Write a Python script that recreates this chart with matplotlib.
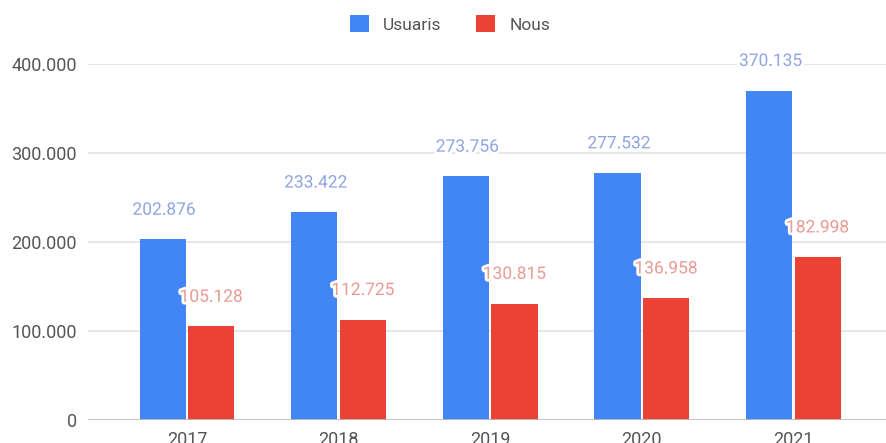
import matplotlib
matplotlib.use("Agg")
import matplotlib.pyplot as plt
import matplotlib.patheffects as pe
import numpy as np

years = ["2017", "2018", "2019", "2020", "2021"]
usuaris = [202876, 233422, 273756, 277532, 370135]
nous = [105128, 112725, 130815, 136958, 182998]
series_names = ["Usuaris", "Nous"]
yticks = [0, 100000, 200000, 300000, 400000]

blue = "#4285F4"
red = "#EA4335"
blue_lbl = "#8fa5e3"
red_lbl = "#e99a94"

def fmt(v):
    return f"{v:,}".replace(",", ".")

plt.rcParams["font.family"] = ["Roboto", "DejaVu Sans"]

W, H = 887, 443
fig = plt.figure(figsize=(W / 100, H / 100), dpi=100)
left, right = 88 / W, 1.0
bottom, top = (H - 420) / H, (H - 64) / H
ax = fig.add_axes([left, bottom, right - left, top - bottom])

x = np.arange(len(years))
bw = 0.305
off = 0.16
ax.bar(x - off, usuaris, width=bw, color=blue, label=series_names[0], zorder=3)
ax.bar(x + off, nous, width=bw, color=red, label=series_names[1], zorder=3)

halo = [pe.withStroke(linewidth=4, foreground="white")]
for xi, v in zip(x, usuaris):
    ax.annotate(fmt(v), (xi - off, v), xytext=(1, 21), textcoords="offset points",
                ha="center", va="center", fontsize=12.5, color=blue_lbl, zorder=5,
                annotation_clip=False, path_effects=halo)
for xi, v in zip(x, nous):
    ax.annotate(fmt(v), (xi + off, v), xytext=(0, 21), textcoords="offset points",
                ha="center", va="center", fontsize=12.5, color=red_lbl, zorder=5,
                annotation_clip=False, path_effects=halo)

ax.set_xlim(-0.653, 4.617)
ax.set_ylim(0, 400000)
ax.set_yticks(yticks)
ax.set_yticklabels([fmt(t) for t in yticks])
ax.set_xticks(x)
ax.set_xticklabels(years)
ax.tick_params(axis="both", length=0, labelsize=13, labelcolor="#555555")
ax.tick_params(axis="y", pad=8)
ax.tick_params(axis="x", pad=8)
for s in ax.spines.values():
    s.set_visible(False)
ax.grid(axis="y", color="#e3e3e3", linewidth=1.2, zorder=0)
ax.axhline(0, color="#bdbdbd", linewidth=2, zorder=4)

ax.legend(loc="center", bbox_to_anchor=(450 / W, 1 - 24 / H), bbox_transform=fig.transFigure,
          ncol=2, frameon=False, fontsize=12.5, handlelength=1.1, handleheight=1.1,
          columnspacing=2.0, handletextpad=0.8, labelcolor="#555555")

fig.savefig("out.png", dpi=100)
